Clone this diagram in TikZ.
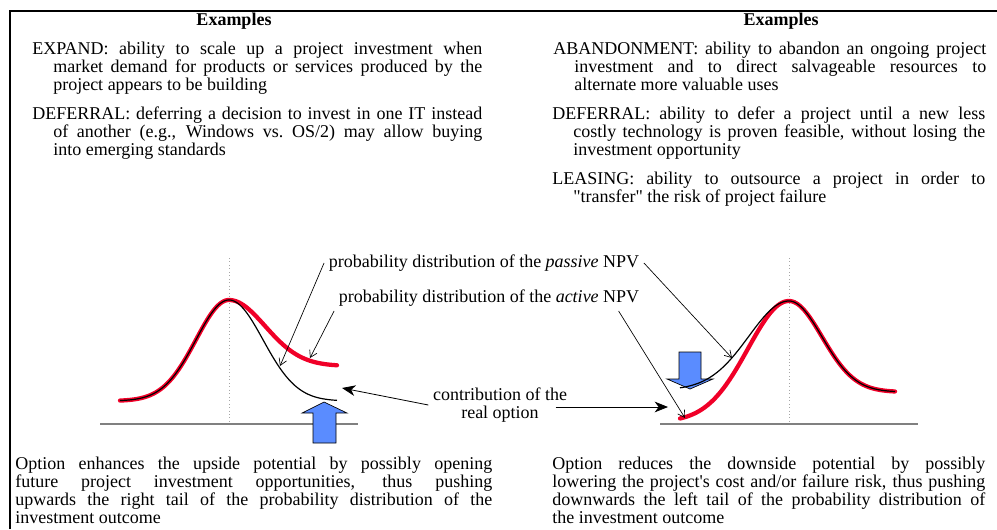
\documentclass[tikz,border=0pt]{standalone}
\usepackage{fontspec}
\setmainfont{Liberation Serif}
\usepackage{xcolor}
\usepackage{tikz}
\usetikzlibrary{arrows.meta, calc}

\definecolor{tailred}{RGB}{240,0,40}
\definecolor{pushblue}{RGB}{90,140,255}
\newcommand{\exhang}{\hangindent=15.75pt\hangafter=1 }

\begin{document}
\begin{tikzpicture}[
		x=0.75pt, y=-0.75pt,
		every node/.style={font=\fontsize{13.5}{13.5}\selectfont},
		heading/.style={font=\fontsize{13.5}{13.5}\selectfont\bfseries},
		example/.style={anchor=base west, inner sep=0pt, text width=#1, align=justify},
		tail/.style={tailred, line width=3.2pt, line cap=round, line join=round},
		outcome/.style={black, line width=0.9pt},
		axis/.style={gray, line width=1.5pt},
		centre/.style={gray!70, dotted, line width=0.6pt},
		push/.style={fill=pushblue, draw=black, line width=0.5pt},
		pointer/.style={-{Straight Barb[length=5pt, width=6pt]}, line width=0.5pt},
		contrib/.style={-{Stealth[length=10pt, width=8pt, inset=3pt]}, line width=0.6pt}
		]
		\useasboundingbox (0,0) rectangle (997,529);
		
		% Frame
		\draw[line width=1.1pt] (10,529) -- (10,11) -- (997,11);
		
		% Examples
		\node[heading] (exL) at (234,21) {Examples};
		\node[heading] (exR) at (781,21) {Examples};
		
		\node[example=337.5pt] (expand) at (32,54) {\exhang EXPAND: ability to scale up a project investment when\linebreak market demand for products or services produced by the\linebreak project appears to be building\par};
		\node[example=337.5pt] (deferL) at (32,119) {\exhang DEFERRAL: deferring a decision to invest in one IT instead\linebreak of another (e.g., Windows vs.\ OS/2) may allow buying\linebreak into emerging standards\par};
		
		\node[example=324.75pt] (abandon) at (553,54) {\exhang ABANDONMENT: ability to abandon an ongoing project\linebreak investment and to direct salvageable resources to\linebreak alternate more valuable uses\par};
		\node[example=324.75pt] (deferR) at (552,119) {\exhang DEFERRAL: ability to defer a project until a new less\linebreak costly technology is proven feasible, without losing the\linebreak investment opportunity\par};
		\node[example=324.75pt] (leasing) at (552,184) {\exhang LEASING: ability to outsource a project in order to\linebreak \textquotedbl transfer\textquotedbl{} the risk of project failure\par};
		
		% Axes
		\draw[axis] (100,424) -- (358,424);
		\draw[axis] (660,424) -- (918,424);
		\draw[centre] (229,258) -- (229,424);
		\draw[centre] (789,258) -- (789,424);
		
		% Pushing arrows
		\draw[push] (313,443) -- (313,413) -- (302,413) -- (324,402) -- (347,413) -- (336,413) -- (336,443) -- cycle;
		\draw[push] (679,352) -- (701,352) -- (701,379) -- (713,379) -- (690,389) -- (667,379) -- (679,379) -- cycle;
		
		% Distributions
		\draw[tail] plot[domain=120:229, samples=60] (\x, {401-101*exp(-0.5*((\x-229)/33)*((\x-229)/33))})
			-- plot[domain=229:337, samples=60] (\x, {366-66*exp(-0.5*((\x-229)/36)*((\x-229)/36))});
		\draw[outcome] plot[domain=120:229, samples=60] (\x, {401-101*exp(-0.5*((\x-229)/33)*((\x-229)/33))})
			-- plot[domain=229:337, samples=60] (\x, {401-101*exp(-0.5*((\x-229)/34)*((\x-229)/34))});
		
		\draw[tail] plot[domain=680:789, samples=60] (\x, {422-121*exp(-0.5*((\x-789)/41)*((\x-789)/41))})
			-- plot[domain=789:895, samples=60] (\x, {392-91*exp(-0.5*((\x-789)/33)*((\x-789)/33))});
		\draw[outcome] plot[domain=680:789, samples=60] (\x, {390-89*exp(-0.5*((\x-789)/40)*((\x-789)/40))})
			-- plot[domain=789:895, samples=60] (\x, {392-91*exp(-0.5*((\x-789)/33)*((\x-789)/33))});
		
		% Labels
		\node (passive) at (484,263) {probability distribution of the \textit{passive} NPV};
		\node (active) at (489,298) {probability distribution of the \textit{active} NPV};
		\node[align=center] (option) at (500,405) {contribution of the\\real option};
		
		\coordinate (passL) at (280,366);
		\coordinate (actL) at (310,358);
		\coordinate (optL) at (342,388);
		\coordinate (passR) at (732,358);
		\coordinate (actR) at (685,418);
		\coordinate (optR) at (668,407);
		
		\draw[pointer] (passive.west) -- (passL);
		\draw[pointer] (passive.east) -- (passR);
		\draw[pointer] (active.south west) -- (actL);
		\draw[pointer] ([xshift=-19pt]active.south east) -- (actR);
		\draw[contrib] (option.west) -- (optL);
		\draw[contrib] ([xshift=-12pt, yshift=-1.5pt]option.east) -- (optR);
		
		% Outcomes
		\node[example=357.75pt] (upside) at (15,469) {Option enhances the upside potential by possibly opening\linebreak future project investment opportunities, thus pushing\linebreak upwards the right tail of the probability distribution of the\linebreak investment outcome\par};
		\node[example=324.75pt] (downside) at (552,469) {Option reduces the downside potential by possibly\linebreak lowering the project\textquotesingle s cost and/or failure risk, thus pushing\linebreak downwards the left tail of the probability distribution of\linebreak the investment outcome\par};
		
	\end{tikzpicture}
\end{document}
